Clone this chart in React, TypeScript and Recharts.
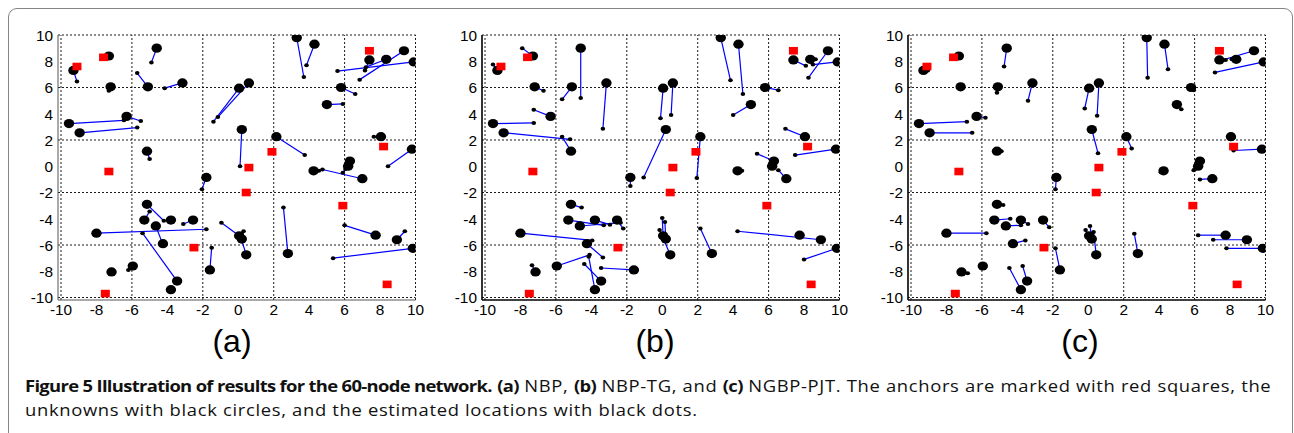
import { ReferenceLine, Scatter, ScatterChart, XAxis, YAxis } from 'recharts'

const tickValues = [-10, -8, -6, -4, -2, 0, 2, 4, 6, 8, 10]
const gridValues = [-10, -6, -2, 2, 6, 10]
const panelLabels = ['(a)', '(b)', '(c)']

// anchors (red squares)
const anchorX = [-9.1, -7.6, -7.3, -7.5, -2.5, 0.6, 0.45, 1.9, 5.9, 7.4, 8.2, 8.4]
const anchorY = [7.6, 8.3, -0.4, -9.7, -6.2, -0.1, -2.0, 1.1, -3.0, 8.8, 1.5, -9.0]

// true positions of the unknowns (black circles)
const unknownX = [
  -4.6, -7.3, -9.3, -7.2, -5.1, -3.15, -9.55, -6.3, -8.95, -5.15, -1.8, -5.15, -5.3, -3.8, -2.55, -4.65,
  -8.0, -4.25, -5.95, -7.15, -3.45, -3.8, -1.6, 3.3, 4.3, 9.35, 7.4, 8.35, 9.9, 0.05, 0.6, 5.8, 5.0, 0.2,
  2.15, 8.05, 9.8, 4.25, 6.3, 6.2, 7.0, 0.05, 0.45, 2.8, 7.75, 8.95, 9.85, 0.2
]
const unknownY = [
  9.0, 8.4, 7.3, 6.05, 6.05, 6.35, 3.25, 3.8, 2.55, 1.15, -0.85, -2.9, -4.1, -4.1, -4.1, -4.55, -5.1,
  -5.9, -7.6, -8.05, -8.75, -9.4, -7.9, 9.8, 9.3, 8.8, 8.1, 8.15, 7.95, 5.95, 6.35, 6.0, 4.7, 2.8, 2.25,
  2.25, 1.3, -0.35, 0.4, 0.0, -0.95, -5.3, -6.75, -6.65, -5.25, -5.6, -6.25, -5.55
]

// estimated locations, NBP
const nbpX = [
  -4.9, -7.55, -9.1, -7.3, -5.7, -4.15, -6.45, -5.5, -5.7, -5.0, -2.05, -4.2, -5.0, -3.75, -3.1, -4.3,
  -1.8, -4.25, -6.2, -7.15, -5.4, -3.8, -1.5, 3.7, 3.85, 6.85, 7.15, 7.2, 5.6, -1.4, -1.15, 6.6, 5.9, 0.1,
  3.75, 7.65, 8.45, 4.55, 5.9, 6.05, 4.75, -0.95, 0.2, 2.55, 6.0, 9.4, 5.35, 0.3
]
const nbpY = [
  7.9, 8.3, 6.45, 5.75, 7.1, 5.95, 3.5, 3.45, 2.95, 0.55, -1.75, -4.15, -3.45, -4.1, -4.4, -5.8, -4.8,
  -5.95, -7.9, -8.05, -5.1, -9.4, -6.2, 6.8, 7.7, 6.6, 7.3, 7.55, 7.25, 3.4, 3.75, 5.5, 4.75, 0.0, 0.85,
  2.25, 0.0, -0.35, -0.5, -0.2, -0.25, -4.3, -5.65, -3.15, -4.5, -4.95, -7.0, -4.95
]

// estimated locations, NBP-TG
const tgX = [
  -4.6, -7.9, -9.55, -6.7, -5.65, -3.35, -7.25, -7.25, -5.2, -5.65, -1.8, -4.55, -3.3, -2.95, -2.2, -2.35,
  -3.95, -3.35, -4.1, -7.35, -4.4, -4.15, -3.45, 3.85, 4.55, 8.25, 8.1, 8.65, 8.5, -0.1, 0.5, 6.55, 4.0,
  -1.05, 1.95, 6.95, 7.5, 4.5, 5.35, 6.2, 6.55, 0.0, -0.15, 2.15, 7.65, 4.25, 8.0, 0.15
]
const tgY = [
  5.2, 9.0, 7.75, 5.75, 5.1, 2.85, 3.3, 4.3, 2.05, 2.25, -1.5, -3.15, -4.5, -4.45, -4.75, -4.3, -5.65,
  -6.95, -6.75, -7.55, -7.45, -6.9, -7.75, 6.55, 5.5, 6.75, 7.65, 8.15, 7.75, 3.65, 3.9, 5.8, 3.9, -0.85,
  -0.9, 2.85, 0.85, -0.35, 0.95, -0.05, -0.3, -3.95, -4.85, -4.75, -5.2, -4.95, -7.1, -4.25
]

// estimated locations, NGBP-PJT
const pjtX = [
  -4.75, -7.6, -9.05, -7.15, -5.15, -3.4, -6.85, -5.8, -6.55, -4.9, -1.85, -4.8, -4.4, -3.4, -2.2, -3.8,
  -5.75, -3.55, -5.85, -6.8, -3.7, -4.45, -1.85, 3.35, 4.5, 7.6, 7.75, 8.1, 7.15, -0.2, 0.5, 5.95, 5.25,
  0.55, 2.45, 8.2, 8.2, 4.1, 5.95, 6.0, 6.3, -0.15, 0.3, 2.6, 6.2, 7.05, 7.8, 0.1
]
const pjtY = [
  7.6, 8.2, 7.3, 6.05, 5.6, 5.0, 3.4, 3.7, 2.55, 1.15, -1.75, -2.95, -4.0, -4.4, -4.65, -4.5, -5.1,
  -5.65, -7.65, -8.15, -7.6, -7.75, -6.25, 6.75, 7.4, 8.1, 8.1, 8.15, 7.15, 4.4, 3.85, 5.8, 4.35, 1.0,
  1.35, 2.2, 1.2, -0.45, -0.3, -0.25, -1.0, -4.85, -5.0, -5.15, -5.25, -5.6, -6.25, -4.55
]

const estimates = [
  { x: nbpX, y: nbpY },
  { x: tgX, y: tgY },
  { x: pjtX, y: pjtY }
]

const panelLefts = [57.7, 481.7, 907.7]
const labelCenters = [232, 655, 1080]
const axisStyles = [
  { stroke: '#555', strokeWidth: 1 },
  { stroke: '#000', strokeWidth: 1.6 },
  { stroke: '#000', strokeWidth: 1.6 }
]

const PLOT_W = 357.5
const PLOT_H = 265
const Y_AXIS_W = 40
const X_AXIS_H = 24
const TOP = 10
const RIGHT = 10
const FONT = '"Liberation Sans", Arial, sans-serif'

const toPoints = (xs: number[], ys: number[]) => xs.map((x, i) => ({ x, y: ys[i] }))

function XTick({ x, y, payload }: any) {
  return (
    <text
      transform={`translate(${x},${y}) scale(1.1,1)`}
      textAnchor="middle"
      dy="0.71em"
      fontSize={14}
      fontFamily={FONT}
      fill="#000"
    >
      {payload.value}
    </text>
  )
}

function YTick({ x, y, payload }: any) {
  return (
    <text
      transform={`translate(${x},${y}) scale(1.1,1)`}
      textAnchor="end"
      dy="0.42em"
      fontSize={14}
      fontFamily={FONT}
      fill="#000"
    >
      {payload.value}
    </text>
  )
}

const circleShape = (p: any) => <ellipse cx={p.cx} cy={p.cy} rx={5.2} ry={4.6} fill="#000" />
const dotShape = (p: any) => <ellipse cx={p.cx} cy={p.cy} rx={2.3} ry={2} fill="#000" />
const squareShape = (p: any) => <rect x={p.cx - 4.5} y={p.cy - 3.8} width={9} height={7.6} fill="#ff0000" />

function Panel({ index }: { index: number }) {
  const est = estimates[index]
  const unknowns = toPoints(unknownX, unknownY)
  const estPts = toPoints(est.x, est.y)
  const anchors = toPoints(anchorX, anchorY)

  return (
    <div
      style={{
        position: 'absolute',
        left: panelLefts[index] - Y_AXIS_W,
        top: 34.5 - TOP
      }}
    >
      <ScatterChart
        width={Y_AXIS_W + PLOT_W + RIGHT}
        height={TOP + PLOT_H + X_AXIS_H}
        margin={{ top: TOP, right: RIGHT, bottom: 0, left: 0 }}
      >
        <XAxis
          type="number"
          dataKey="x"
          domain={[-10.17, 10]}
          ticks={tickValues}
          interval={0}
          allowDataOverflow
          height={X_AXIS_H}
          tickLine={false}
          tickSize={5}
          tickMargin={0}
          axisLine={axisStyles[index]}
          tick={<XTick />}
        />
        <YAxis
          type="number"
          dataKey="y"
          domain={[-10.19, 10]}
          ticks={tickValues}
          interval={0}
          allowDataOverflow
          width={Y_AXIS_W}
          tickLine={false}
          tickSize={3}
          tickMargin={2}
          axisLine={axisStyles[index]}
          tick={<YTick />}
        />
        {gridValues.map((v) => (
          <ReferenceLine key={`gx${v}`} x={v} stroke="#000" strokeWidth={0.9} strokeDasharray="2 2" />
        ))}
        {gridValues.map((v) => (
          <ReferenceLine key={`gy${v}`} y={v} stroke="#000" strokeWidth={0.9} strokeDasharray="2 2" />
        ))}
        {unknowns.map((u, i) => (
          <ReferenceLine
            key={`s${i}`}
            segment={[u, estPts[i]]}
            stroke="#0000ff"
            strokeWidth={1.2}
            ifOverflow="visible"
          />
        ))}
        <Scatter data={unknowns} shape={circleShape} isAnimationActive={false} />
        <Scatter data={estPts} shape={dotShape} isAnimationActive={false} />
        <Scatter data={anchors} shape={squareShape} isAnimationActive={false} />
      </ScatterChart>
    </div>
  )
}

const boldStyle = { fontWeight: 700, letterSpacing: -0.6 }

export default function App() {
  return (
    <div
      style={{
        position: 'absolute',
        left: 0,
        top: 0,
        width: 1294,
        height: 433,
        overflow: 'hidden',
        background: '#fff'
      }}
    >
      <div
        style={{
          position: 'absolute',
          left: 7.5,
          top: 8,
          width: 1283,
          height: 450,
          border: '1.3px solid #858585',
          borderRadius: 9
        }}
      />
      {panelLabels.map((label, i) => (
        <Panel key={label} index={i} />
      ))}
      {panelLabels.map((label, i) => (
        <div
          key={`l${label}`}
          style={{
            position: 'absolute',
            left: labelCenters[i] - 50,
            top: 321,
            width: 100,
            textAlign: 'center',
            fontFamily: FONT,
            fontSize: 32,
            lineHeight: '40px'
          }}
        >
          {label}
        </div>
      ))}
      <div
        style={{
          position: 'absolute',
          left: 25,
          top: 374,
          whiteSpace: 'nowrap',
          fontFamily: '"Open Sans", sans-serif',
          fontSize: 16.5,
          lineHeight: '24px',
          letterSpacing: 0.6,
          color: '#111',
          transform: 'scaleX(1.115)',
          transformOrigin: 'left top'
        }}
      >
        <span style={boldStyle}>Figure 5 Illustration of results for the 60-node network.</span>{' '}
        <span style={boldStyle}>(a)</span> NBP, <span style={boldStyle}>(b)</span> NBP-TG, and{' '}
        <span style={boldStyle}>(c)</span> NGBP-PJT. The anchors are marked with red squares, the
        <br />
        unknowns with black circles, and the estimated locations with black dots.
      </div>
    </div>
  )
}
